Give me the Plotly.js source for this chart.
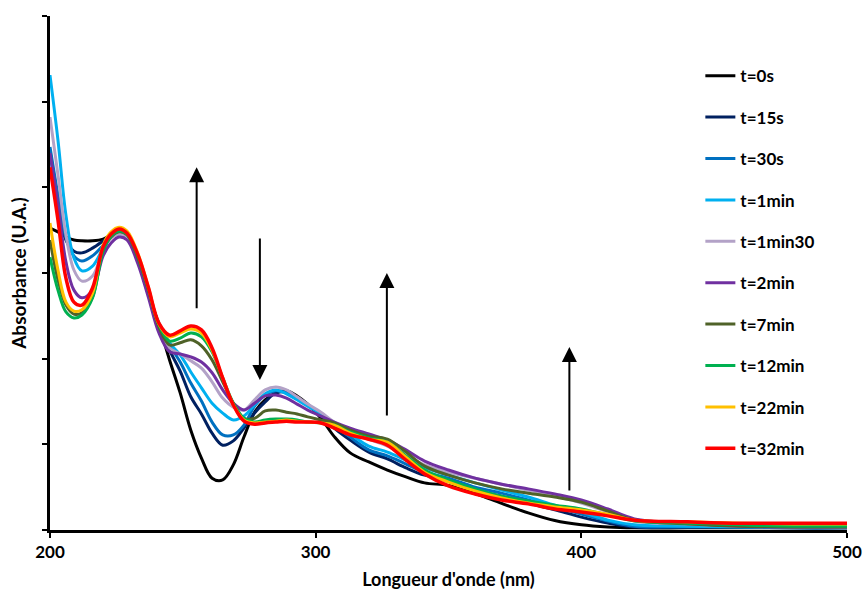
<!DOCTYPE html>
<html>
<head>
<meta charset="utf-8">
<script src="https://cdn.plot.ly/plotly-3.0.1.min.js"></script>
<style>
  html, body { margin: 0; padding: 0; background: #ffffff; }
  #chart { width: 865px; height: 590px; }
</style>
</head>
<body>
<div id="chart"></div>
<script>
// Wavelength (nm)
const wavelength = [200, 203, 206, 209, 212, 216, 220, 223, 226, 229, 233, 237, 241, 245, 249, 253, 257, 261, 265, 269, 273, 277, 281, 285, 289, 293, 297, 302, 307, 313, 320, 327, 334, 341, 350, 360, 370, 380, 390, 400, 410, 420, 440, 460, 480, 500];

// Absorbance (U.A.) for each time
const t0s = [0.705,0.696,0.684,0.677,0.675, 0.675,0.679,0.689,0.698,0.686, 0.630,0.551,0.479,0.397,0.320, 0.233,0.168,0.121,0.117,0.152, 0.217,0.275,0.304,0.320,0.325, 0.313,0.294,0.261,0.218,0.180, 0.159,0.140,0.124,0.110,0.104, 0.085,0.062,0.040,0.022,0.012, 0.007,0.005,0.005,0.005,0.005, 0.005];
const t15s = [0.887,0.759,0.677,0.651,0.647, 0.658,0.675,0.689,0.696,0.686, 0.630,0.551,0.479,0.420,0.371, 0.311,0.271,0.226,0.198,0.208, 0.238,0.273,0.299,0.320,0.322, 0.308,0.292,0.268,0.238,0.210, 0.182,0.166,0.145,0.128,0.117, 0.093,0.079,0.063,0.047,0.030, 0.016,0.007,0.007,0.007,0.005, 0.005];
const t30s = [0.894,0.782,0.682,0.640,0.628, 0.640,0.665,0.686,0.693,0.686, 0.630,0.551,0.481,0.432,0.392, 0.343,0.301,0.252,0.222,0.222, 0.245,0.289,0.315,0.325,0.320, 0.308,0.292,0.273,0.245,0.217, 0.187,0.173,0.154,0.135,0.121, 0.100,0.086,0.070,0.054,0.037, 0.021,0.009,0.007,0.007,0.005, 0.005];
const t1min = [1.062,0.910,0.735,0.635,0.605, 0.616,0.658,0.684,0.691,0.684, 0.630,0.551,0.483,0.437,0.409, 0.369,0.332,0.296,0.273,0.257, 0.266,0.292,0.318,0.327,0.318, 0.304,0.289,0.271,0.247,0.224, 0.196,0.182,0.163,0.145,0.128, 0.110,0.093,0.077,0.058,0.042, 0.023,0.012,0.009,0.007,0.007, 0.007];
const t1min30 = [0.964,0.829,0.689,0.607,0.581, 0.593,0.654,0.682,0.691,0.684, 0.630,0.551,0.467,0.425,0.411, 0.395,0.378,0.346,0.308,0.287, 0.280,0.304,0.327,0.334,0.327, 0.311,0.294,0.275,0.252,0.233, 0.212,0.196,0.173,0.152,0.135, 0.121,0.107,0.093,0.079,0.063, 0.042,0.021,0.014,0.009,0.007, 0.007];
const t2min = [0.880,0.759,0.626,0.560,0.542, 0.560,0.640,0.670,0.684,0.677, 0.623,0.544,0.460,0.416,0.411, 0.404,0.392,0.367,0.327,0.296, 0.280,0.296,0.313,0.315,0.308, 0.294,0.280,0.266,0.252,0.238, 0.224,0.210,0.187,0.161,0.140, 0.121,0.107,0.096,0.084,0.070, 0.049,0.026,0.016,0.009,0.007, 0.007];
const t7min = [0.677,0.584,0.525,0.504,0.507, 0.544,0.654,0.684,0.696,0.689, 0.637,0.560,0.474,0.432,0.437, 0.444,0.430,0.397,0.346,0.296, 0.261,0.261,0.278,0.280,0.275, 0.271,0.264,0.257,0.250,0.233, 0.219,0.212,0.182,0.149,0.128, 0.110,0.096,0.086,0.077,0.065, 0.044,0.023,0.014,0.009,0.007, 0.007];
const t12min = [0.637,0.560,0.509,0.495,0.502, 0.542,0.651,0.686,0.698,0.691, 0.640,0.563,0.479,0.441,0.448, 0.460,0.451,0.416,0.355,0.296, 0.261,0.252,0.257,0.259,0.259, 0.257,0.252,0.250,0.245,0.229, 0.215,0.205,0.173,0.140,0.117, 0.096,0.079,0.068,0.058,0.049, 0.035,0.021,0.016,0.012,0.009, 0.009];
const t22min = [0.717,0.607,0.532,0.511,0.514, 0.553,0.665,0.696,0.707,0.698, 0.647,0.567,0.481,0.451,0.460, 0.469,0.460,0.420,0.355,0.292, 0.257,0.250,0.252,0.254,0.257, 0.254,0.252,0.250,0.245,0.226, 0.212,0.205,0.170,0.135,0.112, 0.091,0.075,0.063,0.054,0.047, 0.037,0.023,0.019,0.016,0.014, 0.014];
const t32min = [0.847,0.724,0.588,0.532,0.525, 0.565,0.661,0.691,0.703,0.693, 0.644,0.567,0.483,0.455,0.465, 0.476,0.467,0.425,0.355,0.292, 0.254,0.247,0.250,0.252,0.254, 0.252,0.252,0.250,0.238,0.222, 0.212,0.198,0.163,0.131,0.103, 0.084,0.070,0.061,0.049,0.042, 0.033,0.023,0.019,0.016,0.016, 0.016];

const seriesNames = ["t=0s", "t=15s", "t=30s", "t=1min", "t=1min30", "t=2min", "t=7min", "t=12min", "t=22min", "t=32min"];
const seriesValues = [t0s, t15s, t30s, t1min, t1min30, t2min, t7min, t12min, t22min, t32min];
const seriesColors = ["#000000", "#002060", "#0070C0", "#00B0F0", "#B3A2C7", "#7030A0", "#4F6228", "#00B050", "#FFC000", "#FF0000"];

// Arrows showing evolution (wavelength, tail absorbance, head absorbance)
const arrowWl = [255.2, 279.0, 326.8, 395.5];
const arrowFrom = [0.514, 0.684, 0.264, 0.089];
const arrowTo = [0.847, 0.350, 0.600, 0.427];

const FONT = "Lato, 'Open Sans', sans-serif";

const traces = seriesNames.map((name, i) => ({
  type: "scatter",
  mode: "lines",
  name: name,
  legendgroup: "g" + i,
  x: wavelength,
  y: seriesValues[i],
  line: { color: seriesColors[i], width: i === 9 ? 3.5 : 3, shape: "spline", smoothing: 1 }
}));

const annotations = arrowWl.map((wl, i) => ({
  x: wl, y: arrowTo[i], ax: wl, ay: arrowFrom[i],
  xref: "x", yref: "y", axref: "x", ayref: "y",
  text: "", showarrow: true,
  arrowhead: 2, arrowsize: 1.5, arrowwidth: 2, arrowcolor: "#000000",
  standoff: 0, startstandoff: 0
}));

const layout = {
  width: 865, height: 590,
  margin: { l: 50, r: 18, t: 16, b: 60 },
  paper_bgcolor: "#ffffff", plot_bgcolor: "#ffffff",
  font: { family: FONT, color: "#000000", size: 16, weight: "bold" },
  showlegend: true,
  legend: {
    x: 0.816, y: 0.918, xanchor: "left", yanchor: "top",
    traceorder: "grouped", tracegroupgap: 16.3,
    font: { family: FONT, size: 17, weight: "bold", color: "#000000" },
    bgcolor: "rgba(0,0,0,0)", borderwidth: 0
  },
  xaxis: {
    range: [200, 500], tickvals: [200, 300, 400, 500],
    showgrid: false, zeroline: false,
    showline: true, linecolor: "#000000", linewidth: 3,
    ticks: "outside", ticklen: 5, tickwidth: 2, tickcolor: "#000000",
    tickfont: { family: FONT, size: 17, weight: "bold", color: "#000000" },
    title: { text: "Longueur d'onde (nm)", font: { family: FONT, size: 18, weight: "bold", color: "#000000" }, standoff: 12 }
  },
  yaxis: {
    range: [0, 1.2], dtick: 0.2, tick0: 0,
    showticklabels: false,
    showgrid: false, zeroline: false,
    showline: true, linecolor: "#000000", linewidth: 3,
    ticks: "outside", ticklen: 5, tickwidth: 2, tickcolor: "#000000",
    title: { text: "Absorbance (U.A.)", font: { family: FONT, size: 19, weight: "bold", color: "#000000" }, standoff: 11 }
  },
  annotations: annotations
};

Plotly.newPlot("chart", traces, layout, { displayModeBar: false, staticPlot: true });
</script>
</body>
</html>
